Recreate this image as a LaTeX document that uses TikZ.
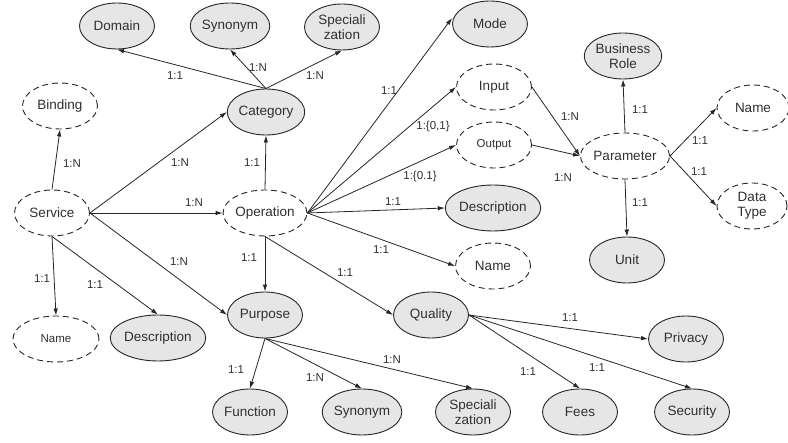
\documentclass[tikz,border=0pt]{standalone}
\usepackage{fontspec}
\setmainfont{Liberation Sans}
\usetikzlibrary{shapes.geometric,arrows.meta}
\definecolor{entfill}{HTML}{E6E6E6}
\definecolor{inkline}{HTML}{262626}
\definecolor{inktext}{HTML}{303030}
\begin{document}
\begin{tikzpicture}[x=1pt,y=-1pt,
  entity/.style={ellipse,draw=inkline,line width=0.9pt,fill=entfill,
    minimum width=75pt,minimum height=46pt,inner sep=0pt,align=center,
    text=inktext,font=\fontsize{13.5}{15.5}\selectfont},
  attrib/.style={entity,fill=white,dashed,dash pattern=on 6pt off 4pt},
  small/.style={font=\fontsize{11.5}{13}\selectfont},
  link/.style={draw=inkline,line width=0.8pt,-{Latex[length=7pt,width=4.5pt]}},
  card/.style={text=inktext,font=\fontsize{11.5}{13}\selectfont,inner sep=0pt}]
\useasboundingbox (0,0) rectangle (788,443);

% entities and attributes
\node[entity] (dom) at (117,26) {Domain};
\node[entity] (syn1) at (230,26) {Synonym};
\node[entity] (spec1) at (342,27) {Speciali\\zation};
\node[entity] (cat) at (266,112) {Category};
\node[attrib] (bind) at (60,106) {Binding};
\node[attrib] (svc) at (52,213) {Service};
\node[attrib] (op) at (265,213) {Operation};
\node[entity] (mode) at (490,24) {Mode};
\node[attrib] (inp) at (494,87) {Input};
\node[attrib,small] (outp) at (494,145) {Output};
\node[entity,minimum width=68pt] (role) at (623,56) {Business\\Role};
\node[attrib,minimum width=72pt] (pname) at (753,108) {Name};
\node[attrib] (par) at (625,156) {Parameter};
\node[attrib,minimum width=70pt] (dtype) at (752,206) {Data\\Type};
\node[entity] (odesc) at (493,208) {Description};
\node[attrib] (oname) at (493,266) {Name};
\node[entity] (unit) at (627,260) {Unit};
\node[attrib,small,minimum width=86pt] (sname) at (56,339) {Name};
\node[entity,minimum width=86pt] (sdesc) at (158,338) {Description};
\node[entity] (pur) at (265,315) {Purpose};
\node[entity] (fun) at (250,412) {Function};
\node[entity] (syn2) at (362,412) {Synonym};
\node[entity] (spec2) at (473,412) {Speciali\\zation};
\node[entity] (qual) at (431,315) {Quality};
\node[entity] (fees) at (580,412) {Fees};
\node[entity] (sec) at (692,412) {Security};
\node[entity] (priv) at (686,339) {Privacy};

% relations of Category
\draw[link] (cat.north) -- (dom.south);
\draw[link] (cat.north) -- (syn1.south);
\draw[link] (cat.north) -- (spec1.south);
\node[card] (c1) at (175,76) {1:1};
\node[card] (c2) at (258,68) {1:N};
\node[card] (c3) at (315,76) {1:N};

% relations of Service
\draw[link] (svc.north) -- (bind.south);
\draw[link] (svc.east) -- (cat.west);
\draw[link] (svc.east) -- (op.west);
\draw[link] (svc.east) -- (pur.west);
\draw[link] (svc.south) -- (sname.north);
\draw[link] (svc.south) -- (sdesc.north);
\node[card] (c4) at (72,164) {1:N};
\node[card] (c5) at (180,163) {1:N};
\node[card] (c6) at (194,203) {1:N};
\node[card] (c7) at (179,262) {1:N};
\node[card] (c8) at (42,279) {1:1};
\node[card] (c9) at (95,285) {1:1};

% relations of Operation
\draw[link] (op.north) -- (cat.south);
\draw[link] (op.south) -- (pur.north);
\draw[link] (op.south) -- (qual.west);
\draw[link] (op.east) -- ([yshift=6pt]mode.west);
\draw[link] (op.east) -- (inp.west);
\draw[link] (op.east) -- (outp.west);
\draw[link] (op.east) -- (odesc.west);
\draw[link] (op.east) -- (oname.west);
\node[card] (c10) at (252,163) {1:1};
\node[card] (c11) at (249,258) {1:1};
\node[card] (c12) at (345,273) {1:1};
\node[card] (c13) at (389,91) {1:1};
\node[card] (c14) at (433,127) {1:\{0,1\}};
\node[card] (c15) at (420,177) {1:\{0.1\}};
\node[card] (c16) at (393,202) {1:1};
\node[card] (c17) at (381,250) {1:1};

% relations of Parameter
\draw[link] (inp.east) -- (par.west);
\draw[link] (outp.east) -- (par.west);
\draw[link] (par.north) -- (role.south);
\draw[link] (par.east) -- (pname.west);
\draw[link] (par.east) -- (dtype.west);
\draw[link] (par.south) -- (unit.north);
\node[card] (c18) at (570,117) {1:N};
\node[card] (c19) at (563,178) {1:N};
\node[card] (c20) at (640,110) {1:1};
\node[card] (c21) at (700,141) {1:1};
\node[card] (c22) at (699,172) {1:1};
\node[card] (c23) at (640,203) {1:1};

% relations of Purpose
\draw[link] (pur.south) -- (fun.north);
\draw[link] (pur.south) -- (syn2.north);
\draw[link] (pur.south) -- (spec2.north);
\node[card] (c24) at (236,370) {1:1};
\node[card] (c25) at (315,378) {1:N};
\node[card] (c26) at (392,360) {1:N};

% relations of Quality
\draw[link] (qual.east) -- (priv.west);
\draw[link] (qual.east) -- (fees.north);
\draw[link] (qual.east) -- (sec.north);
\node[card] (c27) at (570,318) {1:1};
\node[card] (c28) at (528,372) {1:1};
\node[card] (c29) at (597,368) {1:1};
\end{tikzpicture}
\end{document}
